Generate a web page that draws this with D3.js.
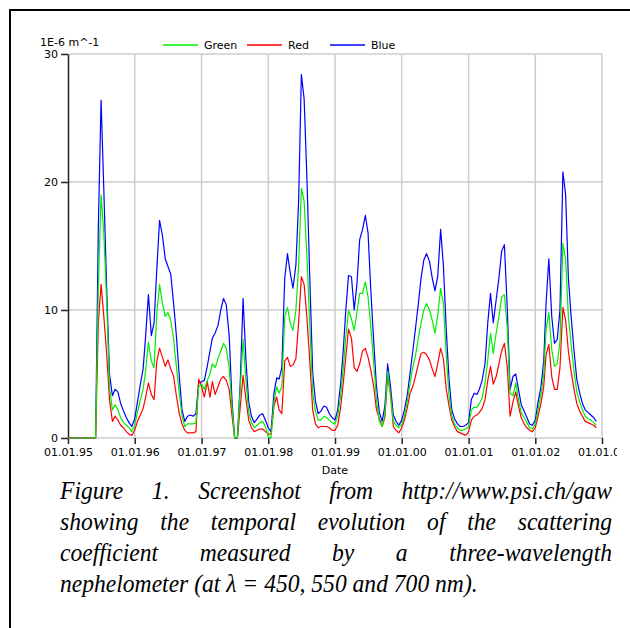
<!DOCTYPE html>
<html>
<head>
<meta charset="utf-8">
<script src="https://cdn.jsdelivr.net/npm/d3@7"></script>
<style>
  body { margin: 0; background: #fff; }
  svg { display: block; }
  .axis text { font-family: "DejaVu Sans", sans-serif; font-size: 11px; fill: #000; }
  .caption text { font-family: "Liberation Serif", "Times New Roman", serif; font-style: italic; font-size: 25.5px; fill: #000; }
</style>
</head>
<body>
<svg id="chart" width="630" height="628"></svg>
<script>
// scattering coefficient at two samples per month (1st and 16th)
const blue = [
  0, 0, 0, 0, 0, 0, 0, 0, 0, 0, 0, 16.5, 26.4, 19.4, 11.5, 5.0, 3.3, 3.8, 3.6, 2.7, 2.1, 1.6, 1.2, 0.9,
  1.5, 2.8, 4.2, 5.4, 8.0, 11.2, 8.0, 9.0, 13.2, 17.0, 15.8, 14.0, 13.4, 12.8, 10.5, 8.0, 4.8, 2.2, 1.3, 1.7, 1.8, 1.7, 1.9, 4.3,
  4.4, 4.5, 5.6, 6.8, 7.8, 8.2, 8.8, 10.0, 10.9, 10.4, 8.0, 3.0, 0, 0, 4.5, 10.9, 6.0, 2.8, 1.7, 1.2, 1.5, 1.8, 1.9, 1.4,
  0.8, 0.5, 3.5, 4.7, 4.6, 5.5, 12.5, 14.4, 12.9, 11.7, 13.5, 18.5, 28.4, 26.5, 20.0, 12.5, 5.1, 2.9, 1.9, 2.1, 2.5, 2.4, 1.9, 1.6,
  1.4, 2.2, 4.3, 7.0, 10.0, 12.7, 12.6, 10.0, 12.0, 15.5, 16.3, 17.4, 16.0, 11.5, 7.5, 4.0, 2.0, 1.3, 2.5, 5.8, 4.0, 1.8, 1.3, 1.0,
  1.4, 2.2, 3.4, 5.1, 6.7, 8.5, 10.5, 12.5, 13.9, 14.4, 13.8, 12.5, 11.5, 12.6, 16.3, 13.5, 8.4, 4.6, 2.2, 1.5, 1.1, 0.9, 0.9, 1.0,
  1.2, 3.0, 3.5, 3.4, 3.8, 4.5, 5.8, 9.0, 11.3, 9.0, 10.8, 12.5, 14.6, 15.1, 10.0, 3.8, 4.8, 5.0, 3.8, 2.6, 2.1, 1.6, 1.1, 1.0,
  1.4, 2.8, 4.0, 6.0, 10.5, 14.0, 9.5, 7.4, 7.7, 10.0, 20.8, 19.0, 12.5, 9.5, 6.8, 4.6, 3.5, 2.7, 2.2, 2.0, 1.8, 1.6, 1.3
];
const green = [
  0, 0, 0, 0, 0, 0, 0, 0, 0, 0, 0, 11.8, 19.0, 16.0, 10.5, 4.0, 2.2, 2.6, 2.2, 1.6, 1.2, 1.0, 0.8, 0.5,
  1.0, 2.0, 3.0, 3.8, 5.3, 7.5, 6.0, 5.5, 9.7, 12.0, 10.5, 9.5, 9.8, 9.2, 7.7, 5.6, 3.5, 1.7, 0.9, 1.1, 1.1, 1.1, 1.2, 4.0,
  4.2, 3.8, 4.5, 5.0, 5.8, 5.5, 6.2, 6.8, 7.4, 7.0, 5.5, 2.5, 0, 0, 4.0, 7.7, 4.5, 2.0, 1.2, 0.8, 1.0, 1.2, 1.3, 0.9,
  0.1, 0, 2.8, 4.0, 3.5, 4.0, 9.5, 10.2, 9.0, 8.4, 10.0, 13.5, 19.5, 18.5, 14.0, 8.8, 3.5, 2.1, 1.4, 1.4, 1.7, 1.6, 1.4, 1.2,
  1.1, 1.7, 3.3, 5.6, 7.8, 10.0, 9.3, 8.4, 9.8, 11.3, 11.3, 12.2, 11.0, 8.7, 5.8, 3.0, 1.3, 0.9, 1.8, 5.2, 3.2, 1.3, 1.0, 0.8,
  1.1, 1.7, 2.9, 4.3, 5.5, 6.4, 7.8, 9.0, 10.0, 10.5, 10.0, 9.2, 8.2, 9.6, 11.7, 10.5, 6.4, 3.3, 1.7, 1.1, 0.8, 0.6, 0.6, 0.7,
  0.9, 2.2, 2.4, 2.4, 2.7, 3.1, 4.3, 6.1, 8.2, 6.6, 8.2, 9.5, 11.0, 11.2, 8.5, 3.5, 3.3, 4.3, 3.0, 2.0, 1.6, 1.2, 0.8, 0.7,
  1.1, 2.2, 3.4, 4.9, 8.5, 9.8, 6.9, 5.6, 5.8, 7.5, 15.2, 14.0, 9.5, 7.3, 5.2, 3.6, 2.8, 2.2, 1.7, 1.5, 1.4, 1.2, 1.0
];
const red = [
  0, 0, 0, 0, 0, 0, 0, 0, 0, 0, 0, 9.0, 12.0, 9.5, 6.5, 3.0, 1.3, 1.7, 1.4, 1.0, 0.8, 0.5, 0.3, 0.2,
  0.6, 1.3, 1.8, 2.3, 3.2, 4.3, 3.4, 3.0, 6.0, 7.0, 6.3, 5.6, 6.1, 5.4, 4.8, 3.3, 1.9, 1.1, 0.6, 0.4, 0.4, 0.4, 0.5, 4.6,
  4.0, 3.2, 4.4, 3.2, 4.4, 3.4, 4.0, 4.6, 4.8, 4.5, 3.8, 1.8, 0, 0, 2.5, 4.9, 3.0, 1.4, 0.8, 0.5, 0.6, 0.7, 0.7, 0.5,
  0.3, 0.3, 2.5, 3.2, 2.2, 1.9, 6.0, 6.3, 5.6, 5.7, 6.2, 9.0, 12.6, 12.0, 9.3, 6.0, 2.2, 1.1, 0.8, 0.9, 0.9, 0.9, 0.8, 0.6,
  0.6, 1.0, 2.4, 4.4, 6.3, 8.5, 7.8, 5.5, 5.2, 5.8, 6.8, 7.0, 6.3, 5.3, 4.0, 2.2, 1.5, 0.9, 1.6, 4.8, 3.5, 0.9, 0.6, 0.4,
  0.8, 1.4, 2.4, 3.5, 4.0, 4.8, 5.8, 6.6, 6.7, 6.5, 6.1, 5.4, 4.8, 5.8, 7.0, 6.2, 3.8, 2.5, 1.4, 0.9, 0.5, 0.4, 0.3, 0.2,
  0.5, 1.4, 1.7, 1.8, 2.0, 2.3, 3.0, 4.5, 5.6, 4.2, 4.8, 5.8, 6.8, 7.4, 5.5, 1.7, 2.8, 3.6, 2.5, 1.6, 1.1, 0.8, 0.6, 0.5,
  0.8, 1.7, 2.7, 4.0, 6.5, 7.3, 4.8, 3.8, 3.8, 5.5, 10.2, 9.2, 6.8, 5.2, 3.8, 2.7, 2.1, 1.7, 1.3, 1.2, 1.1, 1.0, 0.8
];

// sample dates: 1st and 16th of every month from Jan 1995
const dates = blue.map((_, k) => new Date(1995, Math.floor(k / 2), k % 2 ? 16 : 1));

const yearTicks = d3.range(1995, 2004).map(y => new Date(y, 0, 1));
const yTicks = [0, 10, 20, 30];
const legendItems = [
  { name: "Green", color: "#00ee00", data: green },
  { name: "Red", color: "#ff0000", data: red },
  { name: "Blue", color: "#0000ff", data: blue }
];
const captionLines = [
  "Figure 1. Screenshot from http://www.psi.ch/gaw",
  "showing the temporal evolution of the scattering",
  "coefficient measured by a three-wavelength",
  "nephelometer (at λ = 450, 550 and 700 nm)."
];

const svg = d3.select("#chart");

const x = d3.scaleTime().domain([new Date(1995, 0, 1), new Date(2003, 0, 1)]).range([68, 602]);
const y = d3.scaleLinear().domain([0, 30]).range([438, 54]);

// outer frame of the figure
svg.append("path")
    .attr("d", "M10,630V10H632")
    .attr("fill", "none").attr("stroke", "#000").attr("stroke-width", 2);

// grid
const grid = svg.append("g").attr("stroke", "#cccccc").attr("stroke-width", 1.5);
grid.selectAll(".vg").data(yearTicks.slice(1))
    .enter().append("line").attr("class", "vg")
    .attr("x1", d => x(d)).attr("x2", d => x(d))
    .attr("y1", y(30)).attr("y2", y(0));
grid.selectAll(".hg").data(yTicks)
    .enter().append("line").attr("class", "hg")
    .attr("x1", x.range()[0]).attr("x2", x.range()[1])
    .attr("y1", d => y(d)).attr("y2", d => y(d));

// x axis
svg.append("clipPath").attr("id", "xclip")
  .append("rect").attr("x", 0).attr("y", -10).attr("width", 617).attr("height", 40);

const xAxis = svg.append("g").attr("class", "axis")
    .attr("transform", `translate(0,${y(0)})`)
    .attr("clip-path", "url(#xclip)")
    .call(d3.axisBottom(x).tickValues(yearTicks).tickFormat(d3.timeFormat("%d.%m.%y")).tickSize(6).tickPadding(4));
xAxis.select(".domain").remove();
xAxis.selectAll(".tick line").attr("stroke", "#222").attr("stroke-width", 1.5);

// y axis
const yAxis = svg.append("g").attr("class", "axis")
    .attr("transform", `translate(${x.range()[0]},0)`)
    .call(d3.axisLeft(y).tickValues(yTicks).tickSize(7).tickPadding(3).tickSizeOuter(0));
yAxis.select(".domain").attr("stroke", "#222").attr("stroke-width", 1.5);
yAxis.selectAll(".tick line").attr("stroke", "#222").attr("stroke-width", 1.5);
yAxis.selectAll(".tick text").attr("dy", "0.36em");

svg.append("text")
    .attr("x", 40).attr("y", 46)
    .style("font-family", "DejaVu Sans, sans-serif").style("font-size", "11px")
    .text("1E-6 m^-1");

svg.append("text")
    .attr("x", (x.range()[0] + x.range()[1]) / 2).attr("y", 474)
    .attr("text-anchor", "middle")
    .style("font-family", "DejaVu Sans, sans-serif").style("font-size", "11px")
    .text("Date");

// series, blue first so green sits on top
const line = d3.line().x((d, i) => x(dates[i])).y(d => y(d));
svg.append("g").selectAll("path")
    .data([legendItems[2], legendItems[1], legendItems[0]])
    .enter().append("path")
    .attr("d", d => line(d.data))
    .attr("fill", "none")
    .attr("stroke", d => d.color)
    .attr("stroke-width", 1.2)
    .attr("stroke-linejoin", "round");

// legend
const legendX = [163, 247, 330];
const legend = svg.append("g").selectAll("g")
    .data(legendItems)
    .enter().append("g")
    .attr("transform", (d, i) => `translate(${legendX[i]},45)`);
legend.append("line").attr("x1", 0).attr("x2", 35)
    .attr("stroke", d => d.color).attr("stroke-width", 1.5);
legend.append("text").attr("x", 41).attr("y", 4)
    .style("font-family", "DejaVu Sans, sans-serif").style("font-size", "11px")
    .text(d => d.name);

// caption, justified like the source document; the source face is narrow, so squeeze it a little
const capLeft = 60, capRight = 612, capTop = 499, capStep = 31, squeeze = 0.925;
const caption = svg.append("g").attr("class", "caption")
    .attr("transform", `translate(${capLeft},0) scale(${squeeze},1)`);
const capWidth = (capRight - capLeft) / squeeze;
captionLines.forEach((txt, li) => {
    const yy = capTop + li * capStep;
    if (li === captionLines.length - 1) {
        caption.append("text").attr("x", 0).attr("y", yy).text(txt);
        return;
    }
    const words = txt.split(" ");
    const nodes = words.map(w => caption.append("text").attr("y", yy).text(w));
    const widths = nodes.map(n => n.node().getComputedTextLength());
    const gap = (capWidth - d3.sum(widths)) / (words.length - 1);
    let cx = 0;
    nodes.forEach((n, i) => { n.attr("x", cx); cx += widths[i] + gap; });
});
</script>
</body>
</html>
